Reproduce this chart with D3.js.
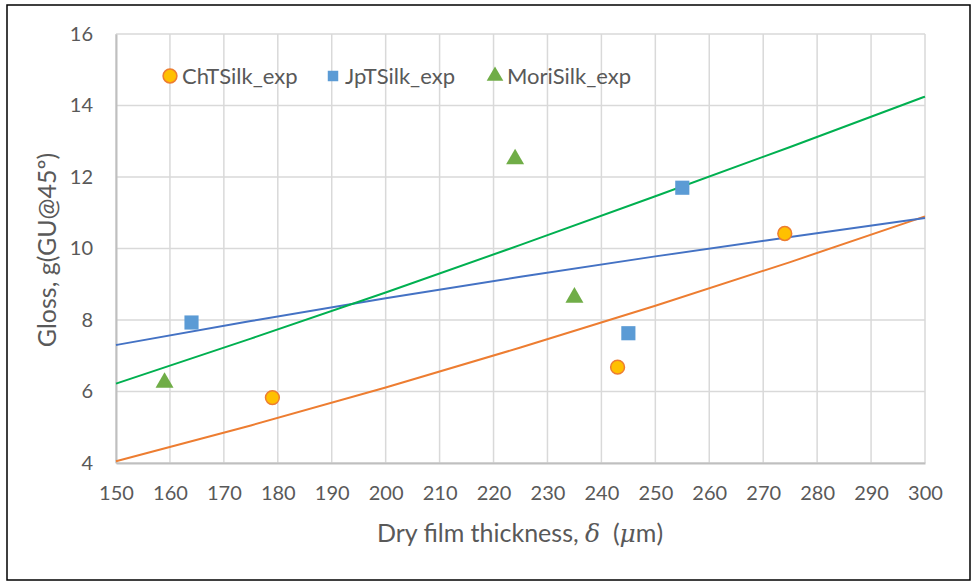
<!DOCTYPE html>
<html>
<head>
<meta charset="utf-8">
<script src="https://cdn.jsdelivr.net/npm/d3@7"></script>
<style>
  body { margin: 0; background: #fff; }
  text { font-family: Lato, "Open Sans", sans-serif; }
</style>
</head>
<body>
<script>
// measured points
const chX = [179, 243, 274];
const chY = [5.83, 6.68, 10.42];
const jpX = [164, 245, 255];
const jpY = [7.93, 7.63, 11.7];
const moX = [159, 224, 235];
const moY = [6.25, 12.5, 8.63];

// model curves
const lineX = [150, 175, 200, 225, 250, 275, 300];
const chLine = [4.05, 5.05, 6.11, 7.23, 8.40, 9.62, 10.90];
const jpLine = [7.30, 7.97, 8.61, 9.21, 9.78, 10.32, 10.85];
const moLine = [6.22, 7.48, 8.77, 10.10, 11.46, 12.84, 14.25];

const xTicks = d3.range(150, 301, 10);
const yTicks = [4, 6, 8, 10, 12, 14, 16];
const legendNames = ["ChTSilk_exp", "JpTSilk_exp", "MoriSilk_exp"];

const W = 975, H = 584;
const svg = d3.select("body").append("svg")
  .attr("width", W)
  .attr("height", H);

svg.append("rect")
  .attr("x", 7).attr("y", 5)
  .attr("width", 963).attr("height", 575)
  .attr("fill", "#fff")
  .attr("stroke", "#000")
  .attr("stroke-width", 1.5);

const x = d3.scaleLinear().domain([150, 300]).range([116, 925]);
const y = d3.scaleLinear().domain([4, 16]).range([463, 34]);

// grid
svg.append("g")
  .selectAll("line")
  .data(xTicks)
  .enter()
    .append("line")
      .attr("x1", d => x(d)).attr("x2", d => x(d))
      .attr("y1", y(16)).attr("y2", y(4))
      .attr("stroke", "#d9d9d9")
      .attr("stroke-width", 1.5);

svg.append("g")
  .selectAll("line")
  .data(yTicks)
  .enter()
    .append("line")
      .attr("x1", x(150)).attr("x2", x(300))
      .attr("y1", d => y(d)).attr("y2", d => y(d))
      .attr("stroke", "#d9d9d9")
      .attr("stroke-width", 1.5);

// axes
const xAxis = svg.append("g")
  .attr("transform", `translate(0,${y(4)})`)
  .call(d3.axisBottom(x).tickValues(xTicks).tickSize(0).tickPadding(23));
const yAxis = svg.append("g")
  .attr("transform", `translate(${x(150)},0)`)
  .call(d3.axisLeft(y).tickValues(yTicks).tickSize(0).tickPadding(23));

[xAxis, yAxis].forEach(a => {
  a.select(".domain").attr("stroke", "#bfbfbf").attr("stroke-width", 2);
  a.selectAll("text")
    .attr("fill", "#595959")
    .attr("font-size", "20px")
    .attr("font-family", "Lato, sans-serif");
});

// curves
const line = d3.line().x(d => x(d[0])).y(d => y(d[1])).curve(d3.curveMonotoneX);
const curves = [
  { v: chLine, c: "#ED7D31" },
  { v: jpLine, c: "#4472C4" },
  { v: moLine, c: "#00B050" }
];
svg.append("g")
  .selectAll("path")
  .data(curves)
  .enter()
    .append("path")
      .attr("d", d => line(lineX.map((xv, i) => [xv, d.v[i]])))
      .attr("fill", "none")
      .attr("stroke", d => d.c)
      .attr("stroke-width", 2);

// markers
const circ = d3.symbol().type(d3.symbolCircle).size(150);
const sq = d3.symbol().type(d3.symbolSquare).size(200);
const tri = d3.symbol().type(d3.symbolTriangle).size(140);

svg.append("g")
  .selectAll("path")
  .data(moX.map((v, i) => [v, moY[i]]))
  .enter()
    .append("path")
      .attr("d", tri)
      .attr("transform", d => `translate(${x(d[0])},${y(d[1])})`)
      .attr("fill", "#70AD47");

svg.append("g")
  .selectAll("path")
  .data(jpX.map((v, i) => [v, jpY[i]]))
  .enter()
    .append("path")
      .attr("d", sq)
      .attr("transform", d => `translate(${x(d[0])},${y(d[1])})`)
      .attr("fill", "#5B9BD5");

svg.append("g")
  .selectAll("path")
  .data(chX.map((v, i) => [v, chY[i]]))
  .enter()
    .append("path")
      .attr("d", circ)
      .attr("transform", d => `translate(${x(d[0])},${y(d[1])})`)
      .attr("fill", "#FFC000")
      .attr("stroke", "#ED7D31")
      .attr("stroke-width", 1.5);

// legend
const leg = svg.append("g");
const legX = [170, 333, 495];
const legSym = [
  { s: circ, f: "#FFC000", st: "#ED7D31" },
  { s: d3.symbol().type(d3.symbolSquare).size(110), f: "#5B9BD5", st: "none" },
  { s: d3.symbol().type(d3.symbolTriangle).size(120), f: "#70AD47", st: "none" }
];
legendNames.forEach((n, i) => {
  leg.append("path")
    .attr("d", legSym[i].s)
    .attr("transform", `translate(${legX[i]},76)`)
    .attr("fill", legSym[i].f)
    .attr("stroke", legSym[i].st)
    .attr("stroke-width", 1.5);
  leg.append("text")
    .attr("x", legX[i] + 12)
    .attr("y", 76)
    .attr("dy", "0.35em")
    .attr("fill", "#595959")
    .attr("font-size", "22px")
    .text(n);
});

// titles
const xTitle = svg.append("text")
  .attr("x", 520)
  .attr("y", 542)
  .attr("text-anchor", "middle")
  .attr("fill", "#595959")
  .attr("font-size", "25px");
xTitle.append("tspan").text("Dry film thickness, ");
xTitle.append("tspan").attr("font-style", "italic").attr("font-family", "DejaVu Serif").text("δ");
xTitle.append("tspan").text("\u00a0\u00a0(");
xTitle.append("tspan").attr("font-style", "italic").attr("font-family", "DejaVu Serif").text("μ");
xTitle.append("tspan").text("m)");

svg.append("text")
  .attr("text-anchor", "middle")
  .attr("fill", "#595959")
  .attr("font-size", "25px")
  .attr("transform", "translate(56,250) rotate(-90)")
  .text("Gloss, g(GU@45º)");
</script>
</body>
</html>
